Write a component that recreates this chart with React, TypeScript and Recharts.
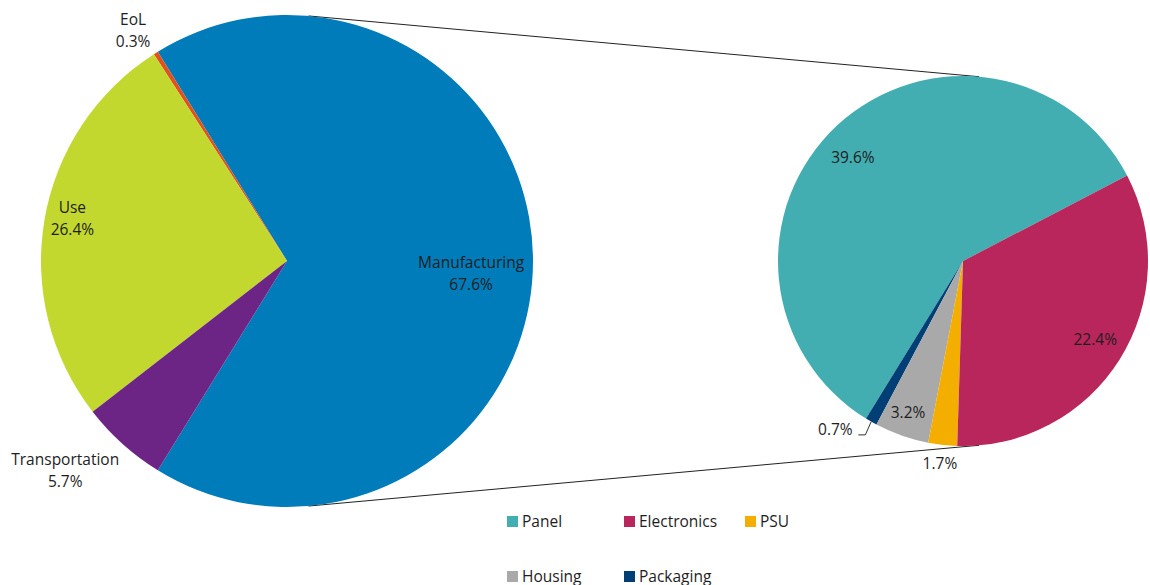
import { PieChart, Pie, Cell, Legend, Customized } from 'recharts';

const phases = ['Manufacturing', 'EoL', 'Use', 'Transportation'];
const phaseShares = [67.6, 0.3, 26.4, 5.7];
const phaseColors = ['#007CBA', '#E2501F', '#C3D82E', '#6D2585'];

// breakdown of Manufacturing, listed counter-clockwise from Panel
const parts = ['Panel', 'Packaging', 'Housing', 'PSU', 'Electronics'];
const partShares = [39.6, 0.7, 3.2, 1.7, 22.4];
const partColors = ['#43AEB1', '#003F76', '#A9A9A9', '#F4AE00', '#B8265B'];
const legendOrder = ['Panel', 'Electronics', 'PSU', 'Housing', 'Packaging'];

const phaseData = phases.map((name, i) => ({ name, value: phaseShares[i] }));
const partData = parts.map((name, i) => ({ name, value: partShares[i] }));

const W = 1150;
const H = 585;
const LEFT = { cx: 287, cy: 261, r: 246 };
const RIGHT = { cx: 963, cy: 261, r: 185 };
const RAD = Math.PI / 180;
const FONT = '"Open Sans", sans-serif';
const FS = 15.5;
const TEXT = '#1e1e1e';

const phaseTotal = phaseShares.reduce((a, b) => a + b, 0);
const leftStart = -((phaseShares[0] / phaseTotal) * 360) / 2;
const rightStart = 27.5;

// label placement: radius as fraction of outer radius, plus angle nudge
const phaseLabelPos: Record<string, { r: number; da: number }> = {
  Manufacturing: { r: 0.75, da: -3.7 },
  EoL: { r: 1.13, da: 1.4 },
  Use: { r: 0.89, da: -1.7 },
  Transportation: { r: 1.24, da: -4.7 },
};
const partLabelPos: Record<string, { r: number; da: number }> = {
  Panel: { r: 0.82, da: 3.6 },
  Packaging: { r: 1.14, da: -7.5 },
  Housing: { r: 0.87, da: -0.6 },
  PSU: { r: 1.1, da: -0.2 },
  Electronics: { r: 0.83, da: 1.6 },
};

const fmt = (v: number) => `${v.toFixed(1)}%`;

function phaseLabel(props: any) {
  const { cx, cy, midAngle, outerRadius, name, value } = props;
  const p = phaseLabelPos[name];
  const a = (midAngle + p.da) * RAD;
  const x = cx + outerRadius * p.r * Math.cos(a);
  const y = cy - outerRadius * p.r * Math.sin(a);
  return (
    <text x={x} y={y} textAnchor="middle" fill={TEXT} fontSize={FS} fontFamily={FONT}>
      <tspan x={x} y={y - 11} dominantBaseline="central">{name}</tspan>
      <tspan x={x} y={y + 11} dominantBaseline="central">{fmt(value)}</tspan>
    </text>
  );
}

function partLabel(props: any) {
  const { cx, cy, midAngle, outerRadius, name, value } = props;
  const p = partLabelPos[name];
  const a = (midAngle + p.da) * RAD;
  const x = cx + outerRadius * p.r * Math.cos(a);
  const y = cy - outerRadius * p.r * Math.sin(a);
  let leader = null;
  if (name === 'Packaging') {
    const m = midAngle * RAD;
    const ex = cx + outerRadius * Math.cos(m);
    const ey = cy - outerRadius * Math.sin(m);
    leader = (
      <polyline
        points={`${x + 23},${y + 6} ${x + 30},${y + 6} ${ex},${ey}`}
        fill="none"
        stroke="#333"
        strokeWidth={1}
      />
    );
  }
  return (
    <g>
      {leader}
      <text x={x} y={y} textAnchor="middle" dominantBaseline="central" fill={TEXT} fontSize={FS} fontFamily={FONT}>
        {fmt(value)}
      </text>
    </g>
  );
}

function Connectors() {
  const ang = 85 * RAD;
  const lx = LEFT.cx + LEFT.r * Math.cos(ang);
  const ly = LEFT.r * Math.sin(ang);
  const rx = RIGHT.cx + RIGHT.r * Math.cos(ang);
  const ry = RIGHT.r * Math.sin(ang);
  return (
    <g stroke="#222" strokeWidth={1}>
      <line x1={lx} y1={LEFT.cy - ly} x2={rx} y2={RIGHT.cy - ry} />
      <line x1={lx} y1={LEFT.cy + ly} x2={rx} y2={RIGHT.cy + ry} />
    </g>
  );
}

function PartLegend() {
  return (
    <div
      style={{
        display: 'grid',
        gridTemplateColumns: '117px 121px 80px',
        rowGap: 37,
        fontFamily: FONT,
        fontSize: FS,
        color: TEXT,
      }}
    >
      {legendOrder.map((name) => (
        <div key={name} style={{ display: 'flex', alignItems: 'center', height: 18 }}>
          <span
            style={{
              display: 'inline-block',
              width: 11,
              height: 11,
              marginRight: 4,
              background: partColors[parts.indexOf(name)],
            }}
          />
          {name}
        </div>
      ))}
    </div>
  );
}

export default function App() {
  return (
    <div style={{ position: 'absolute', left: 0, top: 0, width: W, height: H, background: '#fff' }}>
      <PieChart width={W} height={H} margin={{ top: 0, right: 0, bottom: 0, left: 0 }}>
        <Customized component={Connectors} />
        <Pie
          data={phaseData}
          dataKey="value"
          nameKey="name"
          cx={LEFT.cx}
          cy={LEFT.cy}
          outerRadius={LEFT.r}
          startAngle={leftStart}
          endAngle={leftStart + 360}
          stroke="none"
          label={phaseLabel}
          labelLine={false}
          isAnimationActive={false}
        >
          {phaseData.map((d, i) => (
            <Cell key={d.name} fill={phaseColors[i]} />
          ))}
        </Pie>
        <Pie
          data={partData}
          dataKey="value"
          nameKey="name"
          cx={RIGHT.cx}
          cy={RIGHT.cy}
          outerRadius={RIGHT.r}
          startAngle={rightStart}
          endAngle={rightStart + 360}
          stroke="none"
          label={partLabel}
          labelLine={false}
          isAnimationActive={false}
        >
          {partData.map((d, i) => (
            <Cell key={d.name} fill={partColors[i]} />
          ))}
        </Pie>
        <Legend
          content={PartLegend}
          wrapperStyle={{ position: 'absolute', left: 507, top: 512, width: 330 }}
        />
      </PieChart>
    </div>
  );
}
